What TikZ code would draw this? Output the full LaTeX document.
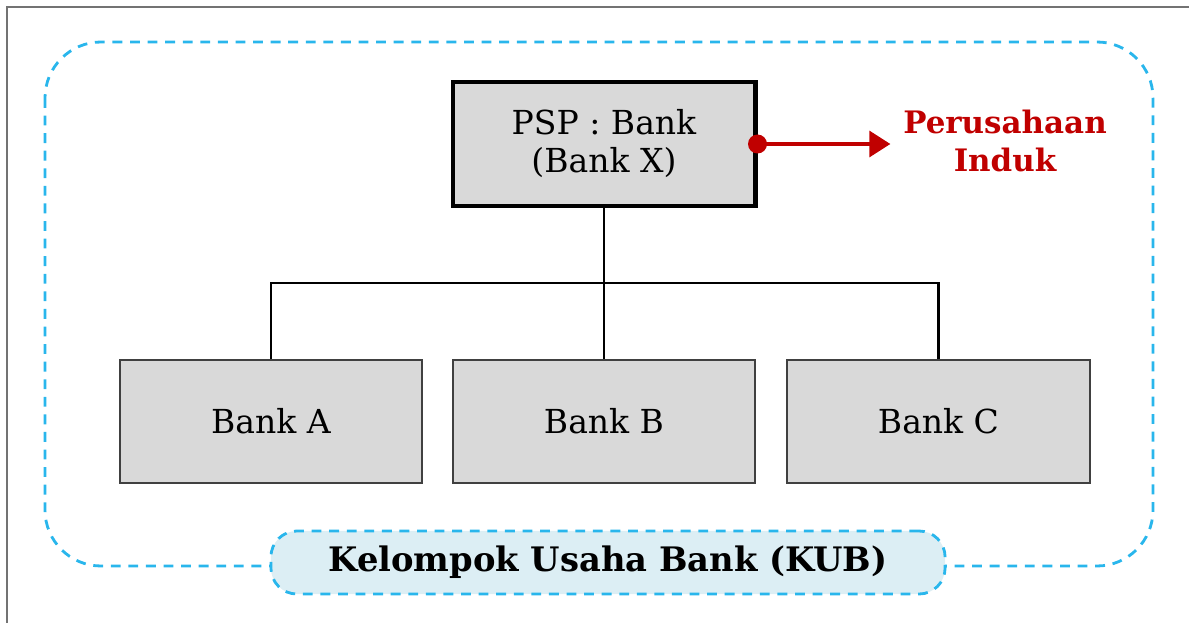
\documentclass[tikz,border=0pt]{standalone}
\usepackage{fontspec}
\setmainfont{DejaVu Serif}
\usepackage{xcolor}
\usetikzlibrary{arrows.meta}
\definecolor{kubblue}{RGB}{41,182,236}
\definecolor{kubfill}{RGB}{220,238,244}
\definecolor{boxgray}{RGB}{217,217,217}
\definecolor{indukred}{RGB}{192,0,0}

\begin{document}
\begin{tikzpicture}[x=0.025cm,y=0.025cm,every text node part/.style={align=center}]
\tikzset{
  bankbox/.style={draw=black!75,line width=1.4pt,fill=boxgray,minimum width=7.55cm,minimum height=3.075cm,font=\fontsize{23.5}{27}\selectfont},
  pspbox/.style={bankbox,draw=black,line width=3.5pt,minimum height=3.1cm},
  kubline/.style={draw=kubblue,line width=2pt,dash pattern=on 7pt off 5.5pt},
  tree/.style={black,line width=1.6pt}
}
\useasboundingbox (0,0) rectangle (1189,-623);
\draw [black!55,line width=1.5pt] (7,-623) -- (7,-7) -- (1189,-7);
\draw [kubline,rounded corners=1.4cm] (45,-42) rectangle (1153,-566);
\node [pspbox] (psp) at (604,-144) {PSP : Bank \\ (Bank X)};
\node [bankbox] (bankA) at (271,-421.5) {Bank A};
\node [bankbox] (bankB) at (604,-421.5) {Bank B};
\node [bankbox] (bankC) at (938.5,-421.5) {Bank C};
\node [text=indukred,font=\bfseries\fontsize{22}{27}\selectfont] (induk) at (1005,-141) {Perusahaan \\ Induk};
\coordinate (split) at (604,-283);
\draw [tree] (psp.south) -- (split);
\draw [tree] (bankA.north) |- (split) -| (bankC.north);
\draw [tree] (split) -- (bankB.north);
\fill [indukred] (psp.east) circle (9.5);
\draw [indukred,line width=3.5pt,-{Triangle[length=15pt,width=18pt]}] (psp.east) -- ++(133,0) coordinate (arrowtip);
\node [kubline,fill=kubfill,rounded corners=0.65cm,minimum width=16.85cm,minimum height=1.575cm,font=\bfseries\fontsize{24}{26}\selectfont] (kub) at (608,-562.5) {Kelompok Usaha Bank (KUB)};
\end{tikzpicture}
\end{document}
